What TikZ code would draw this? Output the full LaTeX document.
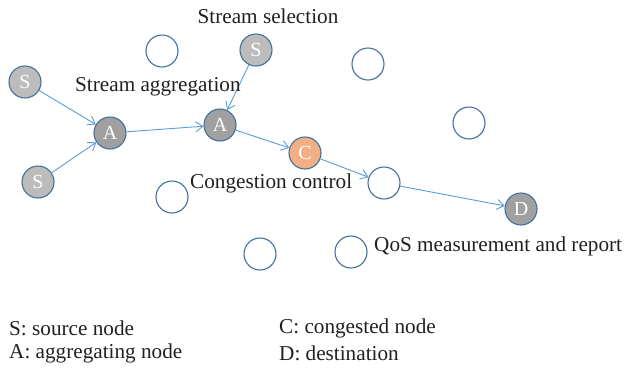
\documentclass[tikz,border=0pt]{standalone}
\usepackage{fontspec}
\setmainfont{Liberation Serif}
\usetikzlibrary{arrows.meta}
\definecolor{edgeblue}{HTML}{5B9BD5}
\definecolor{ringblue}{HTML}{41719C}
\definecolor{lightgrey}{HTML}{BCBCBC}
\definecolor{midgrey}{HTML}{A0A0A0}
\definecolor{orangefill}{HTML}{F1AF83}
\definecolor{txt}{HTML}{231F20}
\tikzset{
  netnode/.style={circle, draw=ringblue, line width=1.1pt, minimum size=32pt, inner sep=0pt,
    text=white, font=\fontsize{20}{22}\selectfont},
  srcnode/.style={netnode, fill=lightgrey},
  aggnode/.style={netnode, fill=midgrey},
  dstnode/.style={netnode, fill=midgrey},
  congnode/.style={netnode, fill=orangefill},
  emptynode/.style={netnode, fill=white},
  flow/.style={draw=edgeblue, line width=0.9pt, -{Straight Barb[length=7pt,width=10pt]}},
  lbl/.style={text=txt, font=\fontsize{21.2}{24}\selectfont, inner sep=0pt},
}
\begin{document}
\begin{tikzpicture}[x=1pt,y=-1pt]
\useasboundingbox (0,0) rectangle (627,368);
% nodes
\node[srcnode] (s1) at (25,82) {S};
\node[srcnode] (s2) at (38,182) {S};
\node[aggnode] (a1) at (110,133) {A};
\node[emptynode] (e1) at (162,51) {};
\node[srcnode] (s3) at (256,50) {S};
\node[aggnode] (a2) at (220,125) {A};
\node[congnode] (c) at (305,153) {C};
\node[emptynode] (e2) at (384,183) {};
\node[dstnode] (d) at (521,209) {D};
\node[emptynode] (e3) at (469,123) {};
\node[emptynode] (e4) at (368,64) {};
\node[emptynode] (e5) at (172,197) {};
\node[emptynode] (e6) at (260,254) {};
\node[emptynode] (e7) at (351,252) {};
% edges
\draw[flow] (s1) -- (a1);
\draw[flow] (s2) -- (a1);
\draw[flow] (a1) -- (a2);
\draw[flow] (s3) -- (a2);
\draw[flow] (a2) -- (c);
\draw[flow] (c) -- (e2);
\draw[flow] (e2) -- (d);
% labels
\node[lbl] (t1) at (268,16) {Stream selection};
\node[lbl, anchor=west] (t2) at (75,87) {Stream aggregation};
\node[lbl, anchor=west] (t3) at (190,183) {Congestion control};
\node[lbl, anchor=west] (t4) at (374,246) {QoS measurement and report};
\node[lbl, anchor=west] (l1) at (9,328) {S: source node};
\node[lbl, anchor=west] (l2) at (9,353) {A: aggregating node};
\node[lbl, anchor=west] (l3) at (279,328) {C: congested node};
\node[lbl, anchor=west] (l4) at (279,353) {D: destination};
\end{tikzpicture}
\end{document}
